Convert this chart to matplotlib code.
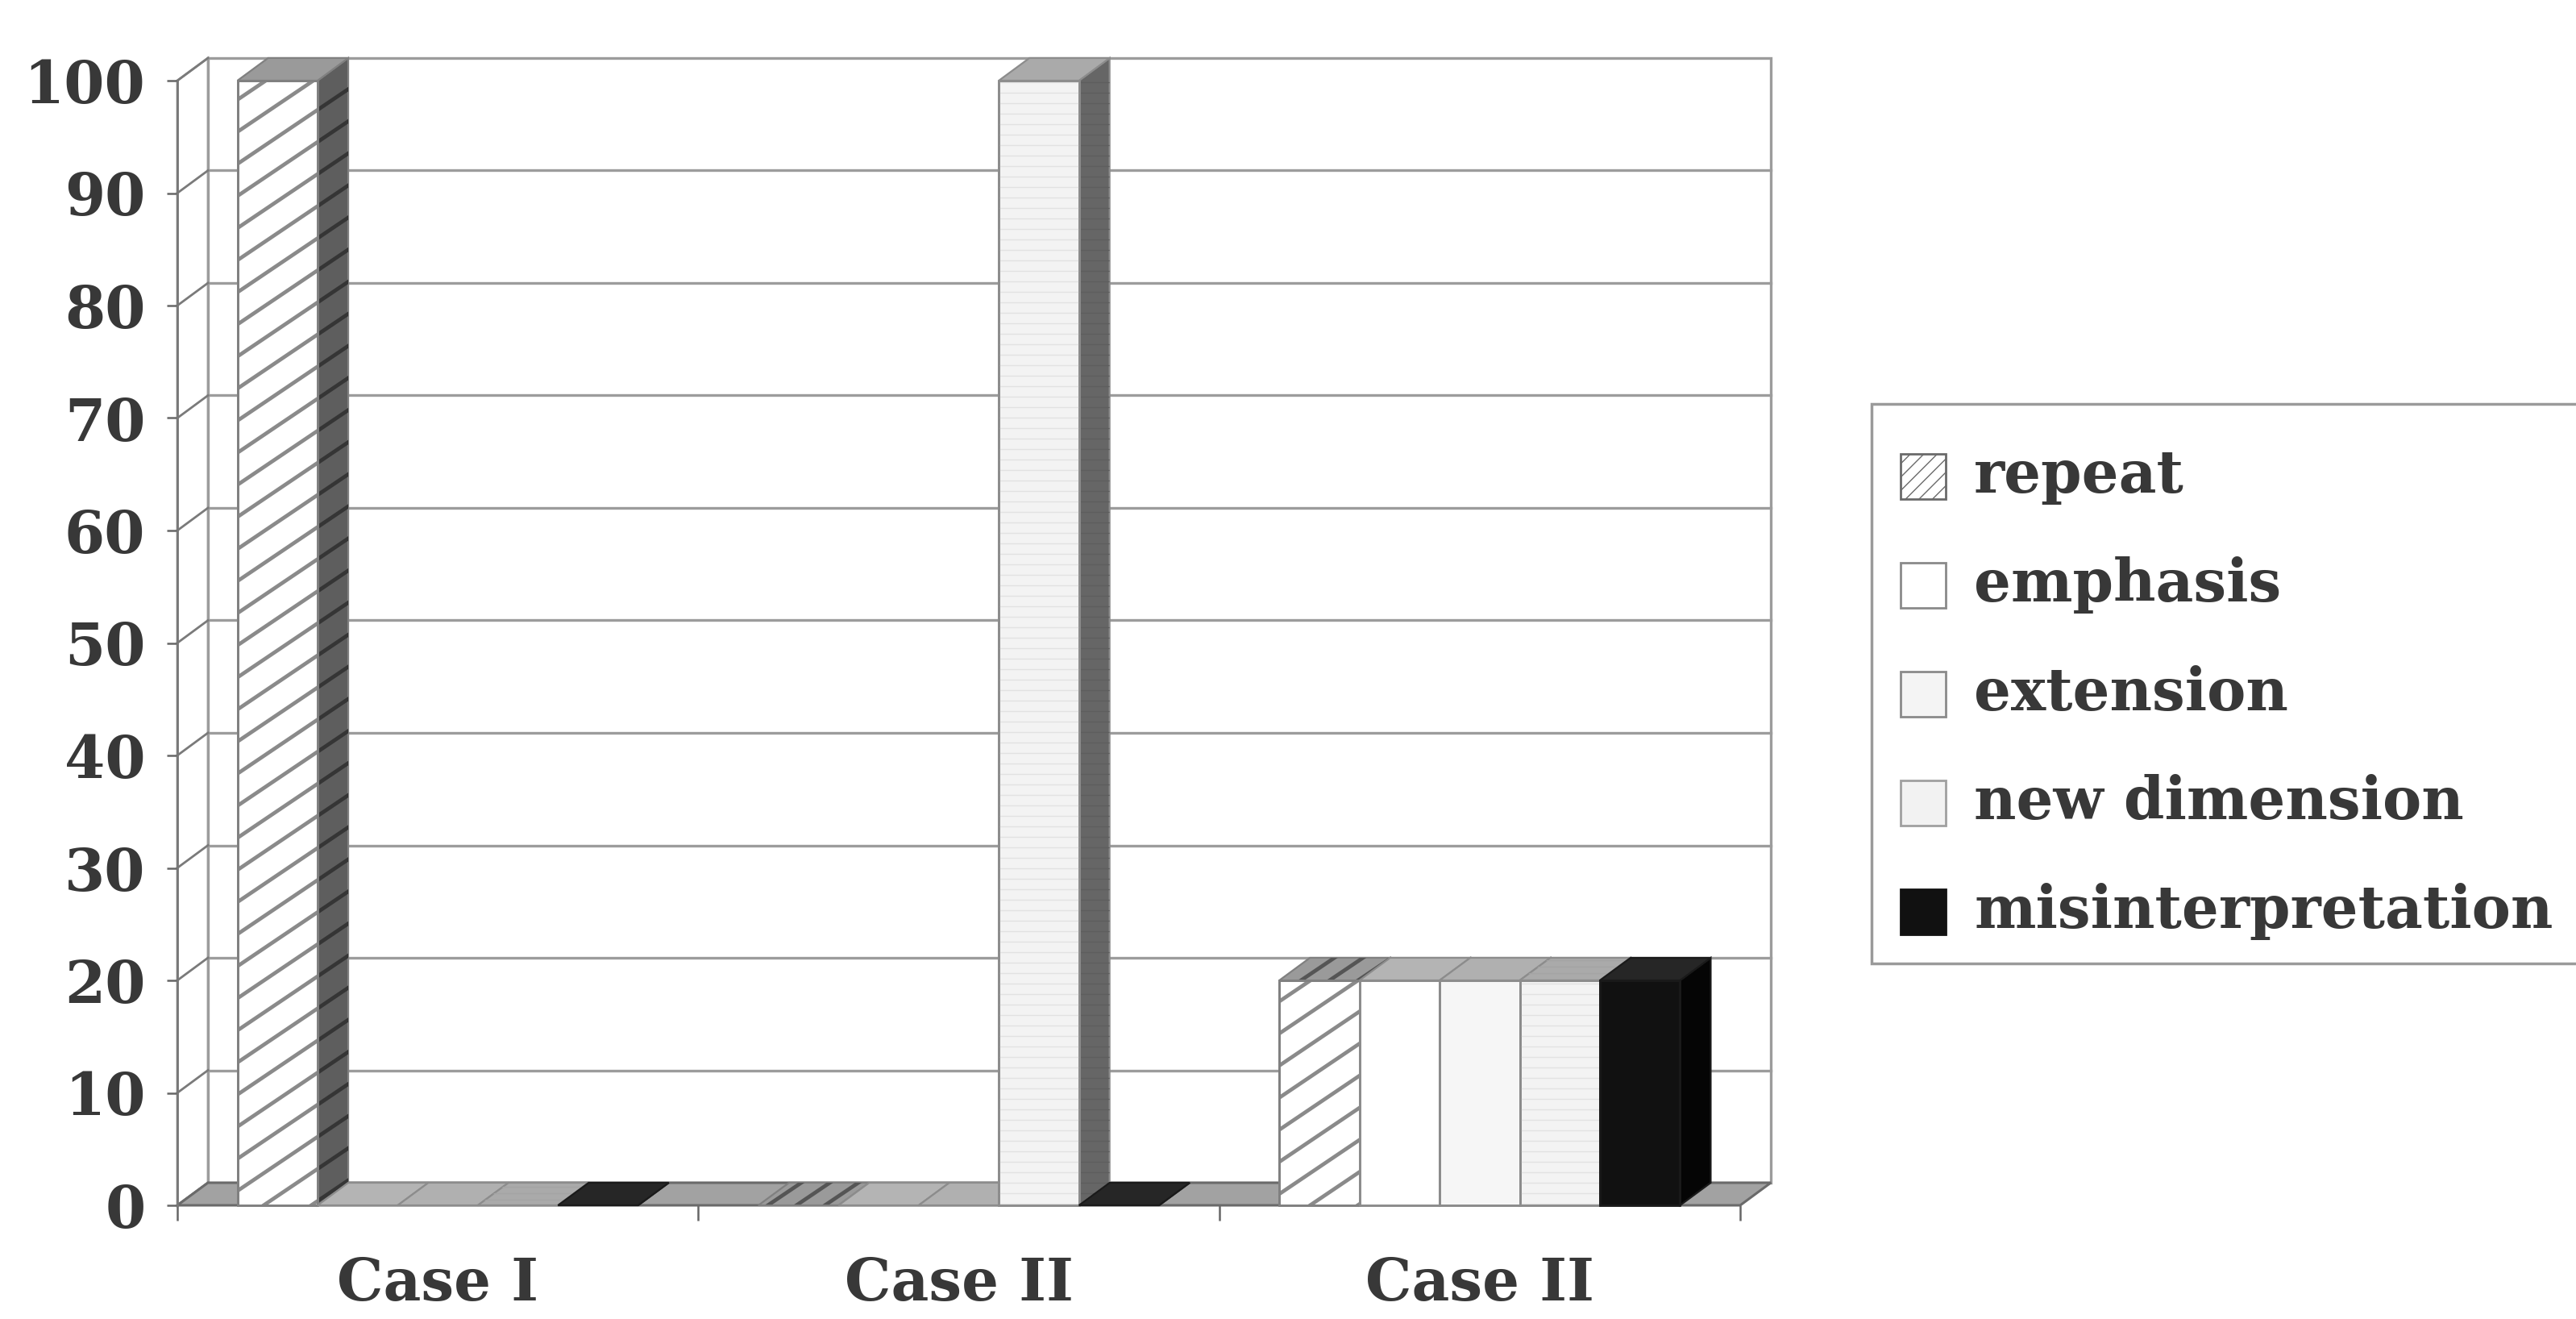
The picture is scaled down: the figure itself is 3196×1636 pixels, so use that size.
import numpy as np
import matplotlib
matplotlib.use("Agg")
import matplotlib.pyplot as plt
from matplotlib.patches import Polygon, Rectangle
from matplotlib.collections import LineCollection

# ---------------- data ----------------
categories = ["Case I", "Case II", "Case II"]
series_names = ["repeat", "emphasis", "extension", "new dimension", "misinterpretation"]
repeat = [100, 0, 20]
emphasis = [0, 0, 20]
extension = [0, 0, 20]
new_dimension = [0, 100, 20]
misinterpretation = [0, 0, 20]
y_ticks = [0, 10, 20, 30, 40, 50, 60, 70, 80, 90, 100]

series_values = [repeat, emphasis, extension, new_dimension, misinterpretation]

# ---------------- styling ----------------
plt.rcParams["font.family"] = ["DejaVu Serif"]
plt.rcParams["font.weight"] = "bold"
TEXT = "#383838"
FS = 52

# front / side / top face colours and stripe patterns per series
styles = [
    dict(front="#ffffff", side="#5e5e5e", top="#9a9a9a", edge="#808080",
         stripe=dict(angle=34, spacing=33, color="#8a8a8a", side_color="#353535",
                     top_color="#555555", lw=3.4)),
    dict(front="#ffffff", side="#727272", top="#b4b4b4", edge="#8c8c8c", stripe=None),
    dict(front="#f6f6f6", side="#6e6e6e", top="#b0b0b0", edge="#8c8c8c", stripe=None),
    dict(front="#f3f3f3", side="#666666", top="#aaaaaa", edge="#8c8c8c",
         stripe=dict(angle=0, spacing=13, color="#e2e2e2", side_color="#5e5e5e",
                     top_color="#a4a4a4", lw=1.0)),
    dict(front="#111111", side="#050505", top="#262626", edge="#1a1a1a", stripe=None),
]

W, H, DPI = 3196, 1636, 100
fig = plt.figure(figsize=(W / DPI, H / DPI), dpi=DPI)
fig.patch.set_facecolor("white")


def fx(x):
    return x / W


def fy(y):
    return 1 - y / H


# front plane of the plot box, in pixels from the top-left corner
left_px, right_px, bottom_px, top_px = 220, 2159, 1495, 100
ax = fig.add_axes([fx(left_px), fy(bottom_px),
                   (right_px - left_px) / W, (bottom_px - top_px) / H])
n_cat = len(categories)
ax.set_xlim(0, n_cat)
ax.set_ylim(0, 100)
ax.patch.set_visible(False)
for name, sp in ax.spines.items():
    sp.set_visible(name == "left")
ax.spines["left"].set_color("#777777")
ax.spines["left"].set_linewidth(2)
ax.spines["left"].set_zorder(2.5)

# depth of the pseudo-3D box (pixels converted to data units)
px_per_x = (right_px - left_px) / n_cat
px_per_y = (bottom_px - top_px) / 100
DX = 38 / px_per_x
DY = 28 / px_per_y

GRID = "#9c9c9c"

# back wall
ax.add_patch(Polygon([(DX, DY), (n_cat + DX, DY), (n_cat + DX, 100 + DY), (DX, 100 + DY)],
                     closed=True, facecolor="white", edgecolor=GRID, lw=2.4, zorder=0.5,
                     clip_on=False))
# left wall
ax.add_patch(Polygon([(0, 0), (DX, DY), (DX, 100 + DY), (0, 100)],
                     closed=True, facecolor="white", edgecolor=GRID, lw=2.0, zorder=0.6,
                     clip_on=False))
for v in y_ticks[1:-1]:
    ax.plot([DX, n_cat + DX], [v + DY, v + DY], color=GRID, lw=2.4, zorder=1, clip_on=False)
for v in y_ticks:
    ax.plot([0, DX], [v, v + DY], color="#7a7a7a", lw=2.0, zorder=1.1, clip_on=False)

# floor
ax.add_patch(Polygon([(0, 0), (n_cat, 0), (n_cat + DX, DY), (DX, DY)],
                     closed=True, facecolor="#a2a2a2", edgecolor="#6a6a6a", lw=2.2, zorder=2,
                     clip_on=False))


def stripes(xy, angle, spacing, color, lw, z):
    """Parallel lines (spacing in pixels) clipped to a polygon given in data units."""
    xy = np.asarray(xy, float)
    clip = Polygon(xy, closed=True, transform=ax.transData, facecolor="none", edgecolor="none")
    pix = ax.transData.transform(xy)
    th = np.deg2rad(angle)
    d = np.array([np.cos(th), np.sin(th)])
    nrm = np.array([-np.sin(th), np.cos(th)])
    proj = pix @ nrm
    c = pix.mean(0)
    L = np.ptp(pix[:, 0]) + np.ptp(pix[:, 1]) + 10
    inv = ax.transData.inverted()
    segs = []
    start = np.floor(proj.min() / spacing) * spacing
    for k in np.arange(start, proj.max() + spacing, spacing):
        p = c + nrm * (k - c @ nrm)
        segs.append(inv.transform(np.array([p - d * L, p + d * L])))
    lc = LineCollection(segs, colors=color, linewidths=lw, zorder=z)
    ax.add_collection(lc, autolim=False)
    lc.set_clip_path(clip)


# clustered columns: gap width 150 % of a column
n_ser = len(series_values)
bar_w = 1 / (n_ser + 1.5)
x_cat = np.arange(n_cat)
for k, (vals, st) in enumerate(zip(series_values, styles)):
    base_z = 3 + k
    xs = x_cat + 0.75 * bar_w + k * bar_w
    bars = ax.bar(xs, vals, width=bar_w, align="edge", color=st["front"],
                  edgecolor=st["edge"], linewidth=2, zorder=base_z + 0.5)
    for b in bars:
        x0, w, h = b.get_x(), b.get_width(), b.get_height()
        side = [(x0 + w, 0), (x0 + w, h), (x0 + w + DX, h + DY), (x0 + w + DX, DY)]
        top = [(x0, h), (x0 + w, h), (x0 + w + DX, h + DY), (x0 + DX, h + DY)]
        ax.add_patch(Polygon(side, closed=True, facecolor=st["side"], edgecolor=st["edge"],
                             lw=1.6, zorder=base_z + 0.1, clip_on=False))
        ax.add_patch(Polygon(top, closed=True, facecolor=st["top"], edgecolor=st["edge"],
                             lw=1.6, zorder=base_z + 0.2, clip_on=False))
        s = st["stripe"]
        if s is not None:
            stripes(side, s["angle"], s["spacing"], s["side_color"], s["lw"], base_z + 0.15)
            stripes(top, s["angle"], s["spacing"] * 0.6, s["top_color"], s["lw"], base_z + 0.25)
            if h > 0:
                front = [(x0, 0), (x0 + w, 0), (x0 + w, h), (x0, h)]
                stripes(front, s["angle"], s["spacing"], s["color"], s["lw"], base_z + 0.55)
        if h > 0:
            ax.add_patch(Polygon([(x0, 0), (x0 + w, 0), (x0 + w, h), (x0, h)], closed=True,
                                 facecolor="none", edgecolor=st["edge"], lw=2,
                                 zorder=base_z + 0.6, clip_on=False))

# axes ticks and labels
ax.set_yticks(y_ticks)
ax.set_yticklabels([str(v) for v in y_ticks])
ax.tick_params(axis="y", length=9.5, width=1.8, color="#666666", pad=19,
               labelsize=FS, labelcolor=TEXT)
ax.set_xticks(np.arange(n_cat + 1))
ax.set_xticklabels([])
ax.set_xticks(x_cat + 0.5, minor=True)
ax.set_xticklabels(categories, minor=True)
ax.tick_params(axis="x", which="major", length=14, width=1.8, color="#666666")
ax.tick_params(axis="x", which="minor", length=0, pad=45, labelsize=FS, labelcolor=TEXT)

# legend box (its right side runs past the edge of the figure)
leg_left, leg_top, leg_bottom = 2322, 501, 1195
fig.add_artist(Rectangle((fx(leg_left), fy(leg_bottom)), (3240 - leg_left) / W,
                         (leg_bottom - leg_top) / H, transform=fig.transFigure,
                         facecolor="white", edgecolor="#9a9a9a", lw=2.5))
legend_faces = [
    dict(fc="white", ec="#6a6a6a", hatch="//"),
    dict(fc="white", ec="#8a8a8a", hatch=None),
    dict(fc="#f4f4f4", ec="#8a8a8a", hatch=None),
    dict(fc="#f2f2f2", ec="#a0a0a0", hatch=None),
    dict(fc="#111111", ec="#111111", hatch=None),
]
row0, row_step, hsize = 591, 135, 56
for i, (name, face) in enumerate(zip(series_names, legend_faces)):
    yc = row0 + i * row_step
    fig.add_artist(Rectangle((fx(2358), fy(yc + hsize / 2)), hsize / W, hsize / H,
                             transform=fig.transFigure, facecolor=face["fc"],
                             edgecolor=face["ec"], hatch=face["hatch"], lw=2))
    fig.text(fx(2449), fy(yc + 20), name, fontsize=FS, color=TEXT,
             ha="left", va="baseline")

fig.savefig("out.png", dpi=DPI, facecolor="white")
